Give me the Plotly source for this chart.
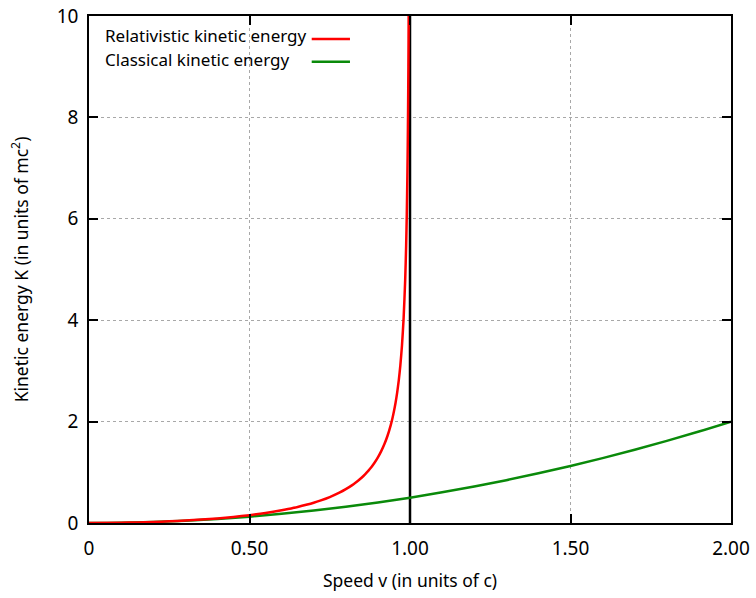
import plotly.graph_objects as go

# Relativistic kinetic energy, speed in units of c
rel_v = [0, 0.1, 0.15, 0.2, 0.25, 0.3, 0.35, 0.4, 0.45, 0.5, 0.55, 0.6, 0.62, 0.65,
         0.68, 0.7, 0.72, 0.75, 0.78, 0.8, 0.82, 0.83, 0.84, 0.85, 0.86, 0.87, 0.88,
         0.89, 0.9, 0.91, 0.92, 0.93, 0.94, 0.945, 0.95, 0.955, 0.96, 0.965, 0.97,
         0.975, 0.98, 0.985, 0.988, 0.99, 0.992, 0.993, 0.994, 0.995, 0.9955, 0.996]
rel_k = [0, 0.005, 0.011, 0.021, 0.033, 0.048, 0.068, 0.091, 0.120, 0.155, 0.197,
         0.25, 0.275, 0.316, 0.364, 0.400, 0.441, 0.512, 0.598, 0.667, 0.747, 0.793,
         0.843, 0.898, 0.960, 1.028, 1.105, 1.193, 1.294, 1.412, 1.552, 1.721, 1.931,
         2.057, 2.203, 2.371, 2.571, 2.813, 3.113, 3.500, 4.025, 4.795, 5.475, 6.089,
         6.922, 7.466, 8.142, 9.013, 9.55, 10.19]

# Classical kinetic energy
cls_v = [0, 0.1, 0.2, 0.3, 0.4, 0.5, 0.6, 0.7, 0.8, 0.9, 1.0, 1.1, 1.2, 1.3, 1.4,
         1.5, 1.6, 1.7, 1.8, 1.9, 2.0]
cls_k = [0, 0.005, 0.02, 0.045, 0.08, 0.125, 0.18, 0.245, 0.32, 0.405, 0.5, 0.605,
         0.72, 0.845, 0.98, 1.125, 1.28, 1.445, 1.62, 1.805, 2.0]

# Speed-of-light line
c_v = [1.0, 1.0]
c_k = [0, 10]

x_ticks = [0, 0.5, 1.0, 1.5, 2.0]
x_tick_labels = ["0", "0.50", "1.00", "1.50", "2.00"]
y_ticks = [0, 2, 4, 6, 8, 10]
y_tick_labels = ["0", "2", "4", "6", "8", "10"]

legend_names = ["Relativistic kinetic energy", "Classical kinetic energy"]
RED = "#ff0000"
GREEN = "#0a8a0a"
FONT = "Noto Sans"

fig = go.Figure()
fig.add_trace(go.Scatter(x=c_v, y=c_k, mode="lines",
                         line=dict(color="black", width=2.5), showlegend=False,
                         hoverinfo="skip"))
fig.add_trace(go.Scatter(x=cls_v, y=cls_k, mode="lines", name=legend_names[1],
                         line=dict(color=GREEN, width=2.5, shape="spline"),
                         showlegend=False))
fig.add_trace(go.Scatter(x=rel_v, y=rel_k, mode="lines", name=legend_names[0],
                         line=dict(color=RED, width=2.5, shape="spline", smoothing=0.6),
                         showlegend=False))

axis_common = dict(
    showline=True, linecolor="black", linewidth=1.5, mirror="ticks",
    ticks="inside", ticklen=9, tickwidth=1.5, tickcolor="black",
    showgrid=True, gridcolor="#a8a8a8", griddash="dot", gridwidth=1,
    zeroline=False, automargin=False, ticklabeloverflow="allow",
    tickfont=dict(family=FONT, size=19, color="black"),
)

fig.update_xaxes(range=[0, 2], tickvals=x_ticks, ticktext=x_tick_labels,
                 ticklabelstandoff=7,
                 title=dict(text="Speed v (in units of c)",
                            font=dict(family=FONT, size=17.5, color="black"),
                            standoff=15),
                 **axis_common)
fig.update_yaxes(range=[0, 10], tickvals=y_ticks, ticktext=y_tick_labels,
                 ticklabelstandoff=5,
                 title=dict(text="Kinetic energy K (in units of mc<sup>2</sup>)",
                            font=dict(family=FONT, size=17.5, color="black"),
                            standoff=24),
                 **axis_common)

# gnuplot-style key: text on the left, line sample on the right
key_rows = [(0.9625, 0.9546, RED), (0.9142, 0.9099, GREEN)]
for name, (ty, ly, col) in zip(legend_names, key_rows):
    fig.add_annotation(x=0.0218, y=ty, xref="paper", yref="paper",
                       text=name, showarrow=False, xanchor="left", yanchor="middle",
                       font=dict(family=FONT, size=17, color="black"))
    fig.add_shape(type="line", xref="paper", yref="paper",
                  x0=0.3469, x1=0.4065, y0=ly, y1=ly,
                  line=dict(color=col, width=2.5))

fig.update_layout(
    width=756, height=598,
    margin=dict(l=89, r=25, t=16, b=75),
    plot_bgcolor="white", paper_bgcolor="white",
    font=dict(family=FONT, color="black"),
)

# remove the default page margin so the figure fills the window exactly
fig.write_html("out.html",
               config={"displayModeBar": False},
               post_script="document.body.style.margin='0';"
                           "document.body.style.overflow='hidden';")
